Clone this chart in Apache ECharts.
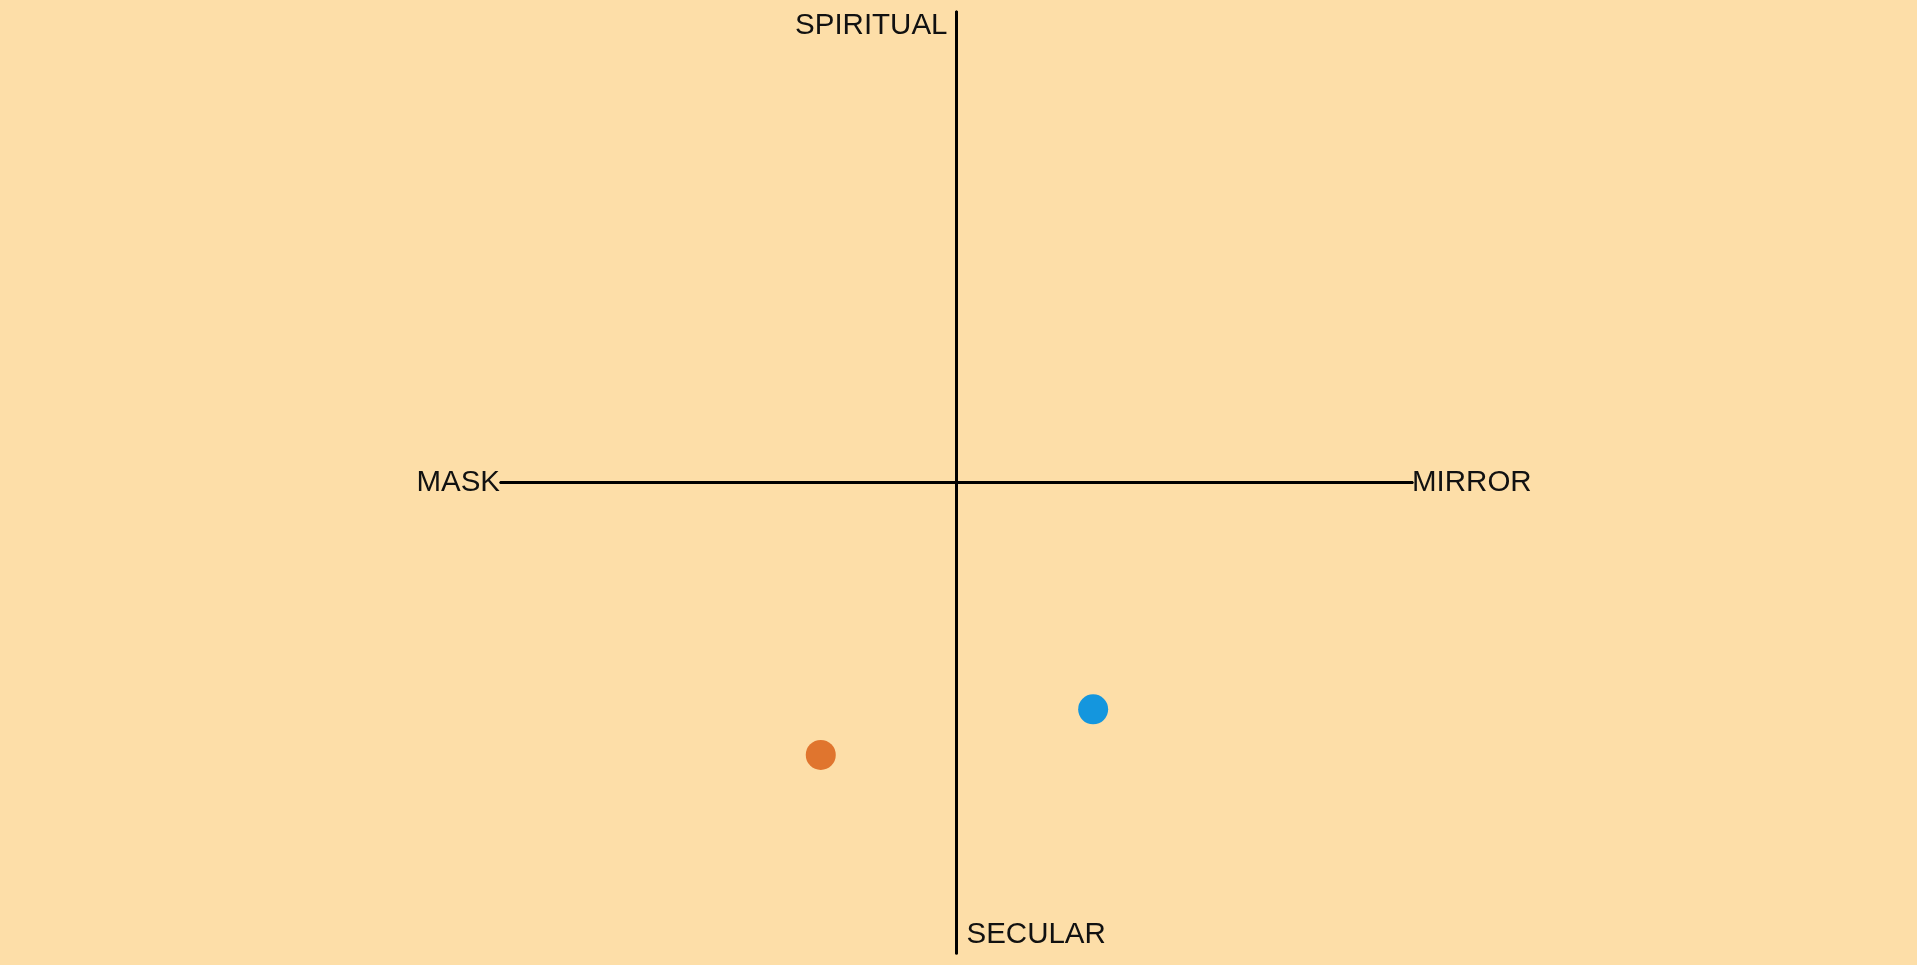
<!DOCTYPE html>
<html>
<head>
<meta charset="utf-8">
<script src="https://cdn.jsdelivr.net/npm/echarts@6/dist/echarts.min.js"></script>
<style>
html,body{margin:0;padding:0;background:#FDDEA8;}
#chart{width:1917px;height:965px;}
</style>
</head>
<body>
<div id="chart"></div>
<script>
// Data
const pointNames = ['A', 'B'];
const xValues = [-0.298, 0.300];
const yValues = [-0.579, -0.482];
const pointColors = ['#E0752E', '#1496DE'];
const axisLabels = { left: 'MASK', right: 'MIRROR', top: 'SPIRITUAL', bottom: 'SECULAR' };
const axisMin = -1, axisMax = 1;

const font = 'Liberation Sans, Arial, Helvetica, sans-serif';
const textColor = '#111';
const nameSize = 29.5;

function xAx(extra) {
  return Object.assign({
    type: 'value', min: axisMin, max: axisMax,
    axisLine: { show: true, onZero: true, lineStyle: { color: '#000', width: 3 } },
    axisTick: { show: false }, axisLabel: { show: false }, splitLine: { show: false }
  }, extra);
}

const chart = echarts.init(document.getElementById('chart'));
chart.setOption({
  backgroundColor: '#FDDEA8',
  animation: false,
  grid: { left: 501, top: 12, width: 911, height: 941, containLabel: false },
  xAxis: [
    xAx({ position: 'bottom', name: axisLabels.right, nameLocation: 'end', nameGap: 0,
      nameTextStyle: { fontFamily: font, fontSize: nameSize, color: textColor, align: 'left', verticalAlign: 'middle', padding: [0,0,4,0] } }),
    xAx({ position: 'top', name: axisLabels.left, nameLocation: 'start', nameGap: 1,
      nameTextStyle: { fontFamily: font, fontSize: nameSize, color: textColor, align: 'right', verticalAlign: 'middle', padding: [0,0,4,0] } })
  ],
  yAxis: [
    xAx({ position: 'left', name: axisLabels.top, nameLocation: 'end', nameGap: -14,
      nameTextStyle: { fontFamily: font, fontSize: nameSize, color: textColor, align: 'right', verticalAlign: 'middle', padding: [0,9,0,0] } }),
    xAx({ position: 'right', name: axisLabels.bottom, nameLocation: 'start', nameGap: -18,
      nameTextStyle: { fontFamily: font, fontSize: nameSize, color: textColor, align: 'left', verticalAlign: 'middle', padding: [0,0,0,10] } })
  ],
  series: [{
    type: 'scatter',
    xAxisIndex: 0, yAxisIndex: 0,
    symbolSize: 30,
    data: pointNames.map((n, i) => ({ name: n, value: [xValues[i], yValues[i]], itemStyle: { color: pointColors[i], opacity: 1 } }))
  }]
});
</script>
</body>
</html>
